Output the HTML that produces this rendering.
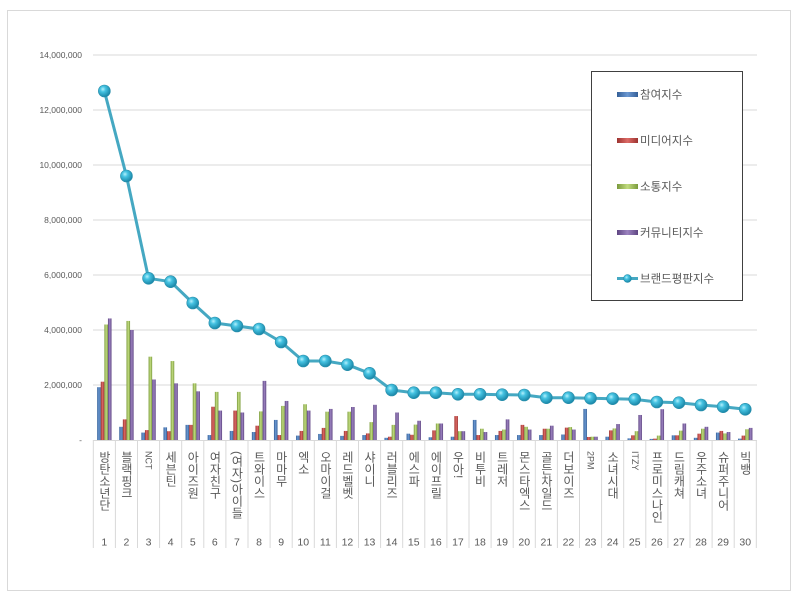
<!DOCTYPE html>
<html><head><meta charset="utf-8">
<style>
html,body{margin:0;padding:0;background:#fff;}
#wrap{position:relative;width:800px;height:600px;overflow:hidden;background:#fff;}
svg{position:absolute;left:0;top:0;}
.lb{position:absolute;top:451px;width:12px;writing-mode:vertical-rl;text-orientation:mixed;font-family:"Liberation Sans","Noto Sans CJK KR",sans-serif;font-size:12px;line-height:12px;color:#595959;white-space:nowrap;}
.lb span{font-size:9px;}
</style></head><body>
<div id="wrap">
<svg width="800" height="600" viewBox="0 0 800 600" xmlns="http://www.w3.org/2000/svg">
<defs>
<linearGradient id="gb" x1="0" y1="0" x2="1" y2="0"><stop offset="0" stop-color="#345f97"/><stop offset="0.5" stop-color="#6b98d2"/><stop offset="1" stop-color="#345f97"/></linearGradient>
<linearGradient id="gr" x1="0" y1="0" x2="1" y2="0"><stop offset="0" stop-color="#9c3330"/><stop offset="0.5" stop-color="#dc6a66"/><stop offset="1" stop-color="#9c3330"/></linearGradient>
<linearGradient id="gg" x1="0" y1="0" x2="1" y2="0"><stop offset="0" stop-color="#7a9a3c"/><stop offset="0.5" stop-color="#c2dc80"/><stop offset="1" stop-color="#7a9a3c"/></linearGradient>
<linearGradient id="gp" x1="0" y1="0" x2="1" y2="0"><stop offset="0" stop-color="#5e4582"/><stop offset="0.5" stop-color="#9c83c0"/><stop offset="1" stop-color="#5e4582"/></linearGradient>
<radialGradient id="gm" cx="0.38" cy="0.35" r="0.65"><stop offset="0" stop-color="#b4f0fc"/><stop offset="0.35" stop-color="#45c3e2"/><stop offset="1" stop-color="#1a87a8"/></radialGradient>
</defs>
<rect x="7.5" y="10.5" width="783" height="580" fill="#fff" stroke="#d9d9d9" stroke-width="1"/>
<g stroke="#d9d9d9" stroke-width="1">
<path d="M93 55H757M93 110H757M93 165H757M93 220H757M93 275H757M93 330H757M93 385H757M93 440.5H757"/>
<path d="M93.3 440V548M115.4 440V548M137.5 440V548M159.6 440V548M181.7 440V548M203.8 440V548M225.9 440V548M248 440V548M270.1 440V548M292.2 440V548M314.3 440V548M336.4 440V548M358.5 440V548M380.6 440V548M402.7 440V548M424.8 440V548M446.9 440V548M469 440V548M491.1 440V548M513.2 440V548M535.3 440V548M557.4 440V548M579.5 440V548M601.6 440V548M623.7 440V548M645.8 440V548M667.9 440V548M690 440V548M712.1 440V548M734.2 440V548M756.3 440V548"/>
</g>
<g font-family="Liberation Sans, sans-serif" font-size="8.5" fill="#595959" text-anchor="end">
<text x="82" y="58">14,000,000</text>
<text x="82" y="113">12,000,000</text>
<text x="82" y="168">10,000,000</text>
<text x="82" y="223">8,000,000</text>
<text x="82" y="278">6,000,000</text>
<text x="82" y="333">4,000,000</text>
<text x="82" y="388">2,000,000</text>
<text x="82" y="443">-</text>
</g>
<g id="bars">
<g transform="translate(104.35,440) scale(1,-27.5)"><rect x="-7.2" width="3.6" height="1.92" fill="url(#gb)"/><rect x="-3.6" width="3.6" height="2.12" fill="url(#gr)"/><rect x="0" width="3.6" height="4.2" fill="url(#gg)"/><rect x="3.6" width="3.6" height="4.42" fill="url(#gp)"/></g>
<g transform="translate(126.45,440) scale(1,-27.5)"><rect x="-7.2" width="3.6" height="0.48" fill="url(#gb)"/><rect x="-3.6" width="3.6" height="0.75" fill="url(#gr)"/><rect x="0" width="3.6" height="4.33" fill="url(#gg)"/><rect x="3.6" width="3.6" height="4.0" fill="url(#gp)"/></g>
<g transform="translate(148.55,440) scale(1,-27.5)"><rect x="-7.2" width="3.6" height="0.27" fill="url(#gb)"/><rect x="-3.6" width="3.6" height="0.36" fill="url(#gr)"/><rect x="0" width="3.6" height="3.03" fill="url(#gg)"/><rect x="3.6" width="3.6" height="2.2" fill="url(#gp)"/></g>
<g transform="translate(170.65,440) scale(1,-27.5)"><rect x="-7.2" width="3.6" height="0.46" fill="url(#gb)"/><rect x="-3.6" width="3.6" height="0.32" fill="url(#gr)"/><rect x="0" width="3.6" height="2.87" fill="url(#gg)"/><rect x="3.6" width="3.6" height="2.06" fill="url(#gp)"/></g>
<g transform="translate(192.75,440) scale(1,-27.5)"><rect x="-7.2" width="3.6" height="0.55" fill="url(#gb)"/><rect x="-3.6" width="3.6" height="0.55" fill="url(#gr)"/><rect x="0" width="3.6" height="2.06" fill="url(#gg)"/><rect x="3.6" width="3.6" height="1.77" fill="url(#gp)"/></g>
<g transform="translate(214.85,440) scale(1,-27.5)"><rect x="-7.2" width="3.6" height="0.18" fill="url(#gb)"/><rect x="-3.6" width="3.6" height="1.21" fill="url(#gr)"/><rect x="0" width="3.6" height="1.75" fill="url(#gg)"/><rect x="3.6" width="3.6" height="1.07" fill="url(#gp)"/></g>
<g transform="translate(236.95,440) scale(1,-27.5)"><rect x="-7.2" width="3.6" height="0.33" fill="url(#gb)"/><rect x="-3.6" width="3.6" height="1.07" fill="url(#gr)"/><rect x="0" width="3.6" height="1.75" fill="url(#gg)"/><rect x="3.6" width="3.6" height="1.0" fill="url(#gp)"/></g>
<g transform="translate(259.05,440) scale(1,-27.5)"><rect x="-7.2" width="3.6" height="0.29" fill="url(#gb)"/><rect x="-3.6" width="3.6" height="0.52" fill="url(#gr)"/><rect x="0" width="3.6" height="1.04" fill="url(#gg)"/><rect x="3.6" width="3.6" height="2.15" fill="url(#gp)"/></g>
<g transform="translate(281.15,440) scale(1,-27.5)"><rect x="-7.2" width="3.6" height="0.73" fill="url(#gb)"/><rect x="-3.6" width="3.6" height="0.18" fill="url(#gr)"/><rect x="0" width="3.6" height="1.24" fill="url(#gg)"/><rect x="3.6" width="3.6" height="1.42" fill="url(#gp)"/></g>
<g transform="translate(303.25,440) scale(1,-27.5)"><rect x="-7.2" width="3.6" height="0.16" fill="url(#gb)"/><rect x="-3.6" width="3.6" height="0.33" fill="url(#gr)"/><rect x="0" width="3.6" height="1.3" fill="url(#gg)"/><rect x="3.6" width="3.6" height="1.07" fill="url(#gp)"/></g>
<g transform="translate(325.35,440) scale(1,-27.5)"><rect x="-7.2" width="3.6" height="0.22" fill="url(#gb)"/><rect x="-3.6" width="3.6" height="0.44" fill="url(#gr)"/><rect x="0" width="3.6" height="1.03" fill="url(#gg)"/><rect x="3.6" width="3.6" height="1.13" fill="url(#gp)"/></g>
<g transform="translate(347.45,440) scale(1,-27.5)"><rect x="-7.2" width="3.6" height="0.15" fill="url(#gb)"/><rect x="-3.6" width="3.6" height="0.33" fill="url(#gr)"/><rect x="0" width="3.6" height="1.03" fill="url(#gg)"/><rect x="3.6" width="3.6" height="1.2" fill="url(#gp)"/></g>
<g transform="translate(369.55,440) scale(1,-27.5)"><rect x="-7.2" width="3.6" height="0.18" fill="url(#gb)"/><rect x="-3.6" width="3.6" height="0.24" fill="url(#gr)"/><rect x="0" width="3.6" height="0.65" fill="url(#gg)"/><rect x="3.6" width="3.6" height="1.28" fill="url(#gp)"/></g>
<g transform="translate(391.65,440) scale(1,-27.5)"><rect x="-7.2" width="3.6" height="0.08" fill="url(#gb)"/><rect x="-3.6" width="3.6" height="0.12" fill="url(#gr)"/><rect x="0" width="3.6" height="0.55" fill="url(#gg)"/><rect x="3.6" width="3.6" height="1.0" fill="url(#gp)"/></g>
<g transform="translate(413.75,440) scale(1,-27.5)"><rect x="-7.2" width="3.6" height="0.23" fill="url(#gb)"/><rect x="-3.6" width="3.6" height="0.19" fill="url(#gr)"/><rect x="0" width="3.6" height="0.56" fill="url(#gg)"/><rect x="3.6" width="3.6" height="0.7" fill="url(#gp)"/></g>
<g transform="translate(435.85,440) scale(1,-27.5)"><rect x="-7.2" width="3.6" height="0.10" fill="url(#gb)"/><rect x="-3.6" width="3.6" height="0.35" fill="url(#gr)"/><rect x="0" width="3.6" height="0.6" fill="url(#gg)"/><rect x="3.6" width="3.6" height="0.6" fill="url(#gp)"/></g>
<g transform="translate(457.95,440) scale(1,-27.5)"><rect x="-7.2" width="3.6" height="0.12" fill="url(#gb)"/><rect x="-3.6" width="3.6" height="0.87" fill="url(#gr)"/><rect x="0" width="3.6" height="0.32" fill="url(#gg)"/><rect x="3.6" width="3.6" height="0.32" fill="url(#gp)"/></g>
<g transform="translate(480.05,440) scale(1,-27.5)"><rect x="-7.2" width="3.6" height="0.73" fill="url(#gb)"/><rect x="-3.6" width="3.6" height="0.18" fill="url(#gr)"/><rect x="0" width="3.6" height="0.41" fill="url(#gg)"/><rect x="3.6" width="3.6" height="0.29" fill="url(#gp)"/></g>
<g transform="translate(502.15,440) scale(1,-27.5)"><rect x="-7.2" width="3.6" height="0.18" fill="url(#gb)"/><rect x="-3.6" width="3.6" height="0.33" fill="url(#gr)"/><rect x="0" width="3.6" height="0.38" fill="url(#gg)"/><rect x="3.6" width="3.6" height="0.75" fill="url(#gp)"/></g>
<g transform="translate(524.25,440) scale(1,-27.5)"><rect x="-7.2" width="3.6" height="0.18" fill="url(#gb)"/><rect x="-3.6" width="3.6" height="0.55" fill="url(#gr)"/><rect x="0" width="3.6" height="0.48" fill="url(#gg)"/><rect x="3.6" width="3.6" height="0.38" fill="url(#gp)"/></g>
<g transform="translate(546.35,440) scale(1,-27.5)"><rect x="-7.2" width="3.6" height="0.18" fill="url(#gb)"/><rect x="-3.6" width="3.6" height="0.41" fill="url(#gr)"/><rect x="0" width="3.6" height="0.41" fill="url(#gg)"/><rect x="3.6" width="3.6" height="0.52" fill="url(#gp)"/></g>
<g transform="translate(568.45,440) scale(1,-27.5)"><rect x="-7.2" width="3.6" height="0.20" fill="url(#gb)"/><rect x="-3.6" width="3.6" height="0.45" fill="url(#gr)"/><rect x="0" width="3.6" height="0.47" fill="url(#gg)"/><rect x="3.6" width="3.6" height="0.38" fill="url(#gp)"/></g>
<g transform="translate(590.55,440) scale(1,-27.5)"><rect x="-7.2" width="3.6" height="1.13" fill="url(#gb)"/><rect x="-3.6" width="3.6" height="0.11" fill="url(#gr)"/><rect x="0" width="3.6" height="0.12" fill="url(#gg)"/><rect x="3.6" width="3.6" height="0.12" fill="url(#gp)"/></g>
<g transform="translate(612.65,440) scale(1,-27.5)"><rect x="-7.2" width="3.6" height="0.12" fill="url(#gb)"/><rect x="-3.6" width="3.6" height="0.35" fill="url(#gr)"/><rect x="0" width="3.6" height="0.42" fill="url(#gg)"/><rect x="3.6" width="3.6" height="0.58" fill="url(#gp)"/></g>
<g transform="translate(634.75,440) scale(1,-27.5)"><rect x="-7.2" width="3.6" height="0.06" fill="url(#gb)"/><rect x="-3.6" width="3.6" height="0.17" fill="url(#gr)"/><rect x="0" width="3.6" height="0.32" fill="url(#gg)"/><rect x="3.6" width="3.6" height="0.91" fill="url(#gp)"/></g>
<g transform="translate(656.85,440) scale(1,-27.5)"><rect x="-7.2" width="3.6" height="0.04" fill="url(#gb)"/><rect x="-3.6" width="3.6" height="0.05" fill="url(#gr)"/><rect x="0" width="3.6" height="0.16" fill="url(#gg)"/><rect x="3.6" width="3.6" height="1.12" fill="url(#gp)"/></g>
<g transform="translate(678.95,440) scale(1,-27.5)"><rect x="-7.2" width="3.6" height="0.17" fill="url(#gb)"/><rect x="-3.6" width="3.6" height="0.17" fill="url(#gr)"/><rect x="0" width="3.6" height="0.34" fill="url(#gg)"/><rect x="3.6" width="3.6" height="0.6" fill="url(#gp)"/></g>
<g transform="translate(701.05,440) scale(1,-27.5)"><rect x="-7.2" width="3.6" height="0.08" fill="url(#gb)"/><rect x="-3.6" width="3.6" height="0.23" fill="url(#gr)"/><rect x="0" width="3.6" height="0.41" fill="url(#gg)"/><rect x="3.6" width="3.6" height="0.48" fill="url(#gp)"/></g>
<g transform="translate(723.15,440) scale(1,-27.5)"><rect x="-7.2" width="3.6" height="0.27" fill="url(#gb)"/><rect x="-3.6" width="3.6" height="0.33" fill="url(#gr)"/><rect x="0" width="3.6" height="0.24" fill="url(#gg)"/><rect x="3.6" width="3.6" height="0.29" fill="url(#gp)"/></g>
<g transform="translate(745.25,440) scale(1,-27.5)"><rect x="-7.2" width="3.6" height="0.05" fill="url(#gb)"/><rect x="-3.6" width="3.6" height="0.16" fill="url(#gr)"/><rect x="0" width="3.6" height="0.39" fill="url(#gg)"/><rect x="3.6" width="3.6" height="0.44" fill="url(#gp)"/></g>
</g>
<polyline fill="none" stroke="#45a8c2" stroke-width="3" stroke-linejoin="round" points="104.35,91 126.45,176 148.55,278.3 170.65,281.7 192.75,303 214.85,323 236.95,326 259.05,329 281.15,342 303.25,361 325.35,361 347.45,364.7 369.55,373.3 391.65,390 413.75,392.7 435.85,392.7 457.95,394.3 480.05,394.3 502.15,394.7 524.25,395 546.35,397.7 568.45,397.7 590.55,398.3 612.65,398.7 634.75,399.3 656.85,402 678.95,402.7 701.05,405 723.15,406.7 745.25,409.3"/>
<g fill="url(#gm)" stroke="#2a8fab" stroke-width="0.6">
<circle cx="104.35" cy="91" r="6"/><circle cx="126.45" cy="176" r="6"/><circle cx="148.55" cy="278.3" r="6"/><circle cx="170.65" cy="281.7" r="6"/><circle cx="192.75" cy="303" r="6"/><circle cx="214.85" cy="323" r="6"/><circle cx="236.95" cy="326" r="6"/><circle cx="259.05" cy="329" r="6"/><circle cx="281.15" cy="342" r="6"/><circle cx="303.25" cy="361" r="6"/><circle cx="325.35" cy="361" r="6"/><circle cx="347.45" cy="364.7" r="6"/><circle cx="369.55" cy="373.3" r="6"/><circle cx="391.65" cy="390" r="6"/><circle cx="413.75" cy="392.7" r="6"/><circle cx="435.85" cy="392.7" r="6"/><circle cx="457.95" cy="394.3" r="6"/><circle cx="480.05" cy="394.3" r="6"/><circle cx="502.15" cy="394.7" r="6"/><circle cx="524.25" cy="395" r="6"/><circle cx="546.35" cy="397.7" r="6"/><circle cx="568.45" cy="397.7" r="6"/><circle cx="590.55" cy="398.3" r="6"/><circle cx="612.65" cy="398.7" r="6"/><circle cx="634.75" cy="399.3" r="6"/><circle cx="656.85" cy="402" r="6"/><circle cx="678.95" cy="402.7" r="6"/><circle cx="701.05" cy="405" r="6"/><circle cx="723.15" cy="406.7" r="6"/><circle cx="745.25" cy="409.3" r="6"/>
</g>
<g font-family="Liberation Sans, sans-serif" font-size="10.5" fill="#595959" text-anchor="middle">
<text x="104.35" y="545.5">1</text><text x="126.45" y="545.5">2</text><text x="148.55" y="545.5">3</text><text x="170.65" y="545.5">4</text><text x="192.75" y="545.5">5</text><text x="214.85" y="545.5">6</text><text x="236.95" y="545.5">7</text><text x="259.05" y="545.5">8</text><text x="281.15" y="545.5">9</text><text x="303.25" y="545.5">10</text><text x="325.35" y="545.5">11</text><text x="347.45" y="545.5">12</text><text x="369.55" y="545.5">13</text><text x="391.65" y="545.5">14</text><text x="413.75" y="545.5">15</text><text x="435.85" y="545.5">16</text><text x="457.95" y="545.5">17</text><text x="480.05" y="545.5">18</text><text x="502.15" y="545.5">19</text><text x="524.25" y="545.5">20</text><text x="546.35" y="545.5">21</text><text x="568.45" y="545.5">22</text><text x="590.55" y="545.5">23</text><text x="612.65" y="545.5">24</text><text x="634.75" y="545.5">25</text><text x="656.85" y="545.5">26</text><text x="678.95" y="545.5">27</text><text x="701.05" y="545.5">28</text><text x="723.15" y="545.5">29</text><text x="745.25" y="545.5">30</text>
</g>
<rect x="591.5" y="71.5" width="151" height="229" fill="#fff" stroke="#404040" stroke-width="1"/>
<rect x="617" y="92" width="21" height="5" fill="url(#gb)"/>
<rect x="617" y="138" width="21" height="5" fill="url(#gr)"/>
<rect x="617" y="184" width="21" height="5" fill="url(#gg)"/>
<rect x="617" y="230" width="21" height="5" fill="url(#gp)"/>
<line x1="617" y1="278.5" x2="638" y2="278.5" stroke="#45a8c2" stroke-width="3"/>
<circle cx="627.5" cy="278.5" r="4" fill="url(#gm)" stroke="#2a8fab" stroke-width="0.5"/>
<g font-family="Liberation Sans, Noto Sans CJK KR, sans-serif" font-size="11.5" fill="#595959">
<text x="640" y="98.5">참여지수</text>
<text x="640" y="144.5">미디어지수</text>
<text x="640" y="190.5">소통지수</text>
<text x="640" y="236.5">커뮤니티지수</text>
<text x="640" y="282.5">브랜드평판지수</text>
</g>
</svg>
<div class="lb" style="left:98.35px">방탄소년단</div>
<div class="lb" style="left:120.45px">블랙핑크</div>
<div class="lb" style="left:142.55px"><span>NCT</span></div>
<div class="lb" style="left:164.65px">세븐틴</div>
<div class="lb" style="left:186.75px">아이즈원</div>
<div class="lb" style="left:208.85px">여자친구</div>
<div class="lb" style="left:230.95px">(여자)아이들</div>
<div class="lb" style="left:253.05px">트와이스</div>
<div class="lb" style="left:275.15px">마마무</div>
<div class="lb" style="left:297.25px">엑소</div>
<div class="lb" style="left:319.35px">오마이걸</div>
<div class="lb" style="left:341.45px">레드벨벳</div>
<div class="lb" style="left:363.55px">샤이니</div>
<div class="lb" style="left:385.65px">러블리즈</div>
<div class="lb" style="left:407.75px">에스파</div>
<div class="lb" style="left:429.85px">에이프릴</div>
<div class="lb" style="left:451.95px">우아!</div>
<div class="lb" style="left:474.05px">비투비</div>
<div class="lb" style="left:496.15px">트레저</div>
<div class="lb" style="left:518.25px">몬스타엑스</div>
<div class="lb" style="left:540.35px">골든차일드</div>
<div class="lb" style="left:562.45px">더보이즈</div>
<div class="lb" style="left:584.55px"><span>2PM</span></div>
<div class="lb" style="left:606.65px">소녀시대</div>
<div class="lb" style="left:628.75px"><span>ITZY</span></div>
<div class="lb" style="left:650.85px">프로미스나인</div>
<div class="lb" style="left:672.95px">드림캐쳐</div>
<div class="lb" style="left:695.05px">우주소녀</div>
<div class="lb" style="left:717.15px">슈퍼주니어</div>
<div class="lb" style="left:739.25px">빅뱅</div>
</div>
</body></html>
